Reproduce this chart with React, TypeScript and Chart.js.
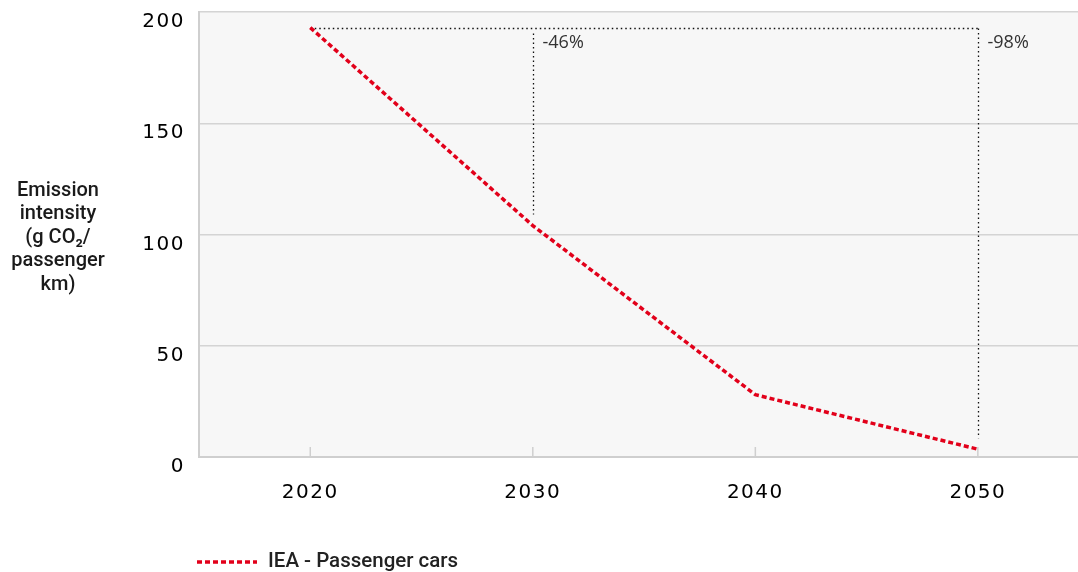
import React, { useEffect, useRef } from "react";
import { Chart, registerables } from "chart.js";

Chart.register(...registerables);

const years = [2020, 2030, 2040, 2050];
const intensity = [193, 104, 28, 3.5];
const xTickValues = [2020, 2030, 2040, 2050];
const yTickValues = [0, 50, 100, 150, 200];
const markerYears = [2030, 2050];
const markerLabels = ["-46%", "-98%"];
const seriesLabel = "IEA - Passenger cars";
const yTitleLines = ["Emission", "intensity", "(g CO\u2082/", "passenger", "km)"];

const RED = "#e2001a";

const plotBg = {
  id: "plotBg",
  beforeDraw(chart: any) {
    const { ctx, chartArea: a } = chart;
    ctx.save();
    ctx.fillStyle = "#f7f7f7";
    ctx.fillRect(a.left, a.top, a.right - a.left, a.bottom - a.top);
    ctx.restore();
    (ctx as any).letterSpacing = "1.5px";
  },
  beforeDatasetsDraw(chart: any) {
    const { ctx, chartArea: a, scales } = chart;
    (ctx as any).letterSpacing = "0px";
    const xs = scales.x;
    const ys = scales.y;
    ctx.save();
    ctx.strokeStyle = "#cfcfcf";
    ctx.lineWidth = 1.5;
    xTickValues.forEach((v) => {
      const px = xs.getPixelForValue(v);
      ctx.beginPath();
      ctx.moveTo(px, a.bottom);
      ctx.lineTo(px, a.bottom - 10);
      ctx.stroke();
    });
    ctx.restore();
    const y0 = Math.round(ys.getPixelForValue(intensity[0])) + 0.5;
    ctx.save();
    ctx.strokeStyle = "#111";
    ctx.lineWidth = 1.3;
    ctx.setLineDash([1.5, 3]);
    ctx.beginPath();
    ctx.moveTo(xs.getPixelForValue(years[0]), y0);
    ctx.lineTo(xs.getPixelForValue(years[years.length - 1]), y0);
    ctx.stroke();
    markerYears.forEach((yr, i) => {
      const idx = years.indexOf(yr);
      const px = Math.round(xs.getPixelForValue(yr)) + 0.5;
      ctx.beginPath();
      ctx.moveTo(px, y0 + (i === 0 ? 5 : 0));
      ctx.lineTo(px, ys.getPixelForValue(intensity[idx]) - 11);
      ctx.stroke();
      ctx.setLineDash([]);
      ctx.fillStyle = "#333";
      ctx.font = "18px 'Open Sans', sans-serif";
      ctx.textBaseline = "middle";
      ctx.textAlign = "left";
      ctx.fillText(markerLabels[i], px + 9, y0 + 14);
      ctx.setLineDash([1.5, 3]);
    });
    ctx.restore();
  },
  afterDraw(chart: any) {
    const { ctx } = chart;
    ctx.save();
    ctx.fillStyle = "#1a1a1a";
    ctx.font = "500 20px Roboto, sans-serif";
    ctx.textAlign = "center";
    ctx.textBaseline = "middle";
    yTitleLines.forEach((t, i) => {
      ctx.fillText(t, 58, 191 + i * 23.4);
    });
    ctx.strokeStyle = RED;
    ctx.lineWidth = 3.5;
    ctx.setLineDash([5, 3]);
    ctx.beginPath();
    ctx.moveTo(197, 562);
    ctx.lineTo(257, 562);
    ctx.stroke();
    ctx.setLineDash([]);
    ctx.fillStyle = "#222";
    ctx.font = "500 20.5px Roboto, sans-serif";
    ctx.textAlign = "left";
    ctx.fillText(seriesLabel, 268, 562);
    ctx.restore();
  },
};

export default function App() {
  const ref = useRef<HTMLCanvasElement | null>(null);
  useEffect(() => {
    if (!ref.current) return;
    const chart = new Chart(ref.current, {
      type: "line",
      data: {
        datasets: [
          {
            label: seriesLabel,
            data: years.map((y, i) => ({ x: y, y: intensity[i] })),
            borderColor: RED,
            borderWidth: 3.5,
            borderDash: [5, 3],
            pointRadius: 0,
            fill: false,
            tension: 0,
          },
        ],
      },
      options: {
        animation: false,
        responsive: false,
        layout: { padding: { top: 0, left: 0, right: 0, bottom: 0 } },
        plugins: { legend: { display: false }, tooltip: { enabled: false } },
        scales: {
          x: {
            type: "linear",
            min: 2015,
            max: 2054.5,
            afterBuildTicks: (s: any) => {
              s.ticks = xTickValues.map((v) => ({ value: v }));
            },
            afterFit: (s: any) => {
              s.height = 115;
              s.paddingLeft = 0;
              s.paddingRight = 0;
            },
            grid: { display: true, color: "transparent", drawTicks: false },
            border: { display: true, color: "#cfcfcf", width: 2 },
            ticks: {
              padding: 24,
              color: "#000",
              font: { family: "'DejaVu Sans', sans-serif", size: 20 },
              callback: (v: any) => String(v),
              maxRotation: 0,
            },
          },
          y: {
            min: 0,
            max: 200,
            afterBuildTicks: (s: any) => {
              s.ticks = yTickValues.map((v) => ({ value: v }));
            },
            afterFit: (s: any) => {
              s.width = 199;
              s.paddingTop = 12;
              s.paddingBottom = 0;
            },
            grid: { color: "#d4d4d4", lineWidth: 1.5, drawTicks: false },
            border: { display: true, color: "#cfcfcf", width: 2 },
            ticks: {
              padding: 14,
              labelOffset: 10,
              color: "#000",
              font: { family: "'DejaVu Sans', sans-serif", size: 20 },
            },
          },
        },
      },
      plugins: [plotBg],
    });
    return () => chart.destroy();
  }, []);
  return (
    <div style={{ position: "absolute", left: 0, top: 0, width: 1078, height: 572 }}>
      <canvas ref={ref} width={1078} height={572} />
    </div>
  );
}
